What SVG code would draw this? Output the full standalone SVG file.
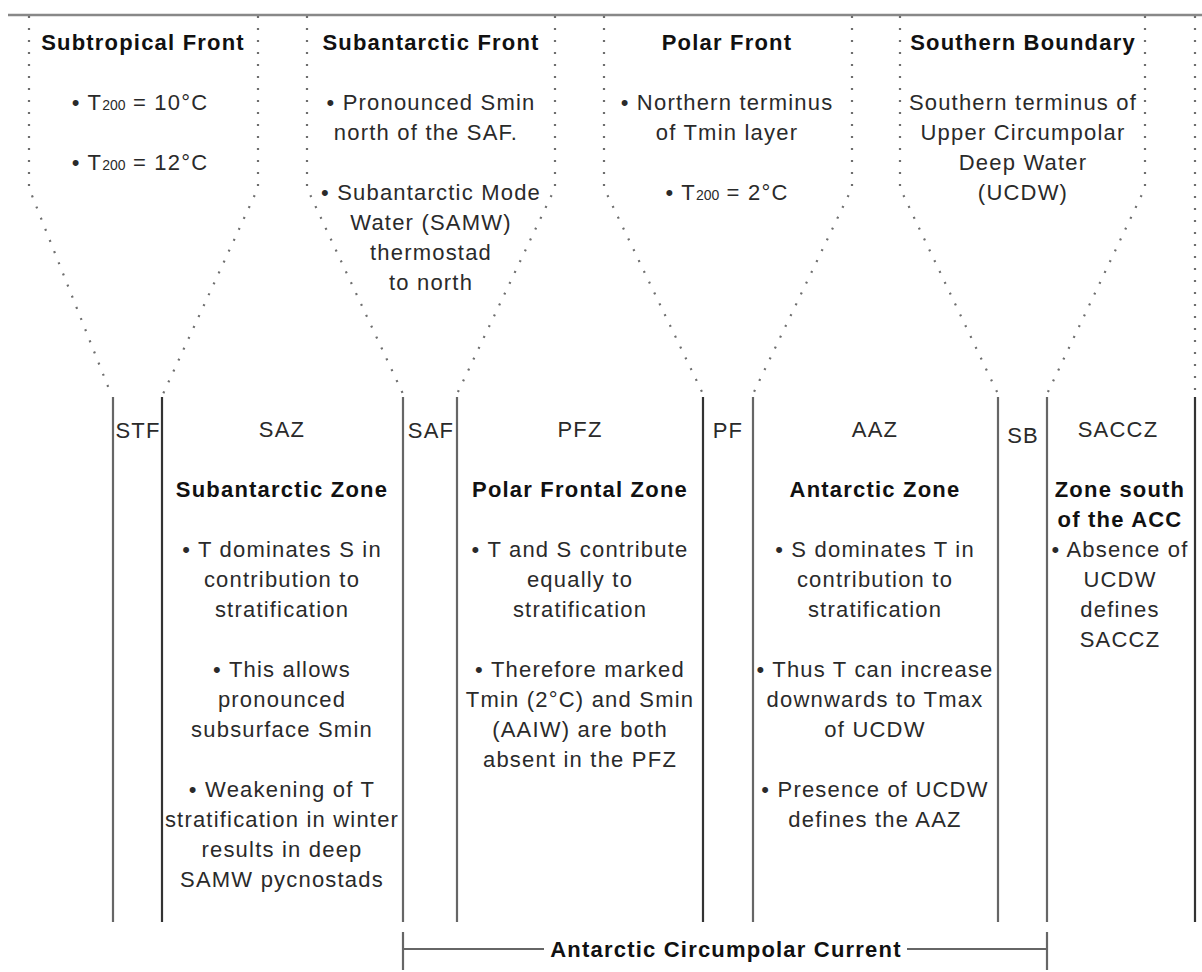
<svg xmlns="http://www.w3.org/2000/svg" width="1202" height="972" viewBox="0 0 1202 972">
<style>
.b{font-family:"Liberation Sans",Arial,sans-serif;font-size:22px;font-weight:bold;fill:#111;letter-spacing:1.2px;text-anchor:middle}
.r{font-family:"Liberation Sans",Arial,sans-serif;font-size:22px;fill:#2a2a2a;letter-spacing:1.2px;text-anchor:middle}
.sub{font-size:14px;letter-spacing:0}
.dot{fill:none;stroke:#6e6e6e;stroke-width:2.2;stroke-dasharray:2 10}
.ln{stroke:#666;stroke-width:2.2;fill:none}
.dk{stroke:#333}
</style>
<rect width="1202" height="972" fill="#fff"/>
<g id="connectors">
<line x1="8" y1="15" x2="1202" y2="15" stroke="#888" stroke-width="2.5"/>
<path class="dot" d="M29,16 V188 L111,394"/>
<path class="dot" d="M258,16 V188 L163,394"/>
<path class="dot" d="M307,16 V188 L403,394"/>
<path class="dot" d="M555,16 V188 L457,394"/>
<path class="dot" d="M604,16 V188 L703,394"/>
<path class="dot" d="M852,16 V188 L753,394"/>
<path class="dot" d="M900,16 V188 L998,394"/>
<path class="dot" d="M1145,16 V188 L1047,394"/>
<path class="dot" d="M1195,16 V394"/>
<line class="ln" x1="113" y1="397" x2="113" y2="922"/>
<line class="ln dk" x1="162" y1="397" x2="162" y2="922"/>
<line class="ln" x1="403" y1="397" x2="403" y2="922"/>
<line class="ln" x1="457" y1="397" x2="457" y2="922"/>
<line class="ln dk" x1="703" y1="397" x2="703" y2="922"/>
<line class="ln" x1="753" y1="397" x2="753" y2="922"/>
<line class="ln" x1="998" y1="397" x2="998" y2="922"/>
<line class="ln" x1="1047" y1="397" x2="1047" y2="922"/>
<line class="ln dk" x1="1195" y1="397" x2="1195" y2="922"/>
<line class="ln" x1="403" y1="932" x2="403" y2="970"/>
<line class="ln" x1="1047" y1="932" x2="1047" y2="970"/>
<line class="ln" x1="403" y1="949" x2="544" y2="949"/>
<line class="ln" x1="907" y1="949" x2="1047" y2="949"/>
</g>
<g id="front-stf">
<text class="b" x="143" y="50">Subtropical Front</text>
<text class="r" x="140" y="110">• T<tspan class="sub">200</tspan> = 10°C</text>
<text class="r" x="140" y="170">• T<tspan class="sub">200</tspan> = 12°C</text>
<text class="r" x="138" y="438">STF</text>
</g>
<g id="front-saf">
<text class="b" x="431" y="50">Subantarctic Front</text>
<text class="r" x="431" y="110">• Pronounced Smin</text>
<text class="r" x="426" y="140">north of the SAF.</text>
<text class="r" x="431" y="200">• Subantarctic Mode</text>
<text class="r" x="431" y="230">Water (SAMW)</text>
<text class="r" x="431" y="260">thermostad</text>
<text class="r" x="431" y="290">to north</text>
<text class="r" x="431" y="438">SAF</text>
</g>
<g id="front-pf">
<text class="b" x="727" y="50">Polar Front</text>
<text class="r" x="727" y="110">• Northern terminus</text>
<text class="r" x="727" y="140">of Tmin layer</text>
<text class="r" x="727" y="200">• T<tspan class="sub">200</tspan> = 2°C</text>
<text class="r" x="728" y="438">PF</text>
</g>
<g id="front-sb">
<text class="b" x="1023" y="50">Southern Boundary</text>
<text class="r" x="1023" y="110">Southern terminus of</text>
<text class="r" x="1023" y="140">Upper Circumpolar</text>
<text class="r" x="1023" y="170">Deep Water</text>
<text class="r" x="1023" y="200">(UCDW)</text>
<text class="r" x="1023" y="443">SB</text>
</g>
<g id="zone-saz">
<text class="r" x="282" y="437">SAZ</text>
<text class="b" x="282" y="497">Subantarctic Zone</text>
<text class="r" x="282" y="557">• T dominates S in</text>
<text class="r" x="282" y="587">contribution to</text>
<text class="r" x="282" y="617">stratification</text>
<text class="r" x="282" y="677">• This allows</text>
<text class="r" x="282" y="707">pronounced</text>
<text class="r" x="282" y="737">subsurface Smin</text>
<text class="r" x="282" y="797">• Weakening of T</text>
<text class="r" x="282" y="827">stratification in winter</text>
<text class="r" x="282" y="857">results in deep</text>
<text class="r" x="282" y="887">SAMW pycnostads</text>
</g>
<g id="zone-pfz">
<text class="r" x="580" y="437">PFZ</text>
<text class="b" x="580" y="497">Polar Frontal Zone</text>
<text class="r" x="580" y="557">• T and S contribute</text>
<text class="r" x="580" y="587">equally to</text>
<text class="r" x="580" y="617">stratification</text>
<text class="r" x="580" y="677">• Therefore marked</text>
<text class="r" x="580" y="707">Tmin (2°C) and Smin</text>
<text class="r" x="580" y="737">(AAIW) are both</text>
<text class="r" x="580" y="767">absent in the PFZ</text>
</g>
<g id="zone-aaz">
<text class="r" x="875" y="437">AAZ</text>
<text class="b" x="875" y="497">Antarctic Zone</text>
<text class="r" x="875" y="557">• S dominates T in</text>
<text class="r" x="875" y="587">contribution to</text>
<text class="r" x="875" y="617">stratification</text>
<text class="r" x="875" y="677">• Thus T can increase</text>
<text class="r" x="875" y="707">downwards to Tmax</text>
<text class="r" x="875" y="737">of UCDW</text>
<text class="r" x="875" y="797">• Presence of UCDW</text>
<text class="r" x="875" y="827">defines the AAZ</text>
</g>
<g id="zone-saccz">
<text class="r" x="1118" y="437">SACCZ</text>
<text class="b" x="1120" y="497">Zone south</text>
<text class="b" x="1120" y="527">of the ACC</text>
<text class="r" x="1120" y="557">• Absence of</text>
<text class="r" x="1120" y="587">UCDW</text>
<text class="r" x="1120" y="617">defines</text>
<text class="r" x="1120" y="647">SACCZ</text>
</g>
<g id="acc-label">
<text class="b" x="726" y="957">Antarctic Circumpolar Current</text>
</g>
</svg>
